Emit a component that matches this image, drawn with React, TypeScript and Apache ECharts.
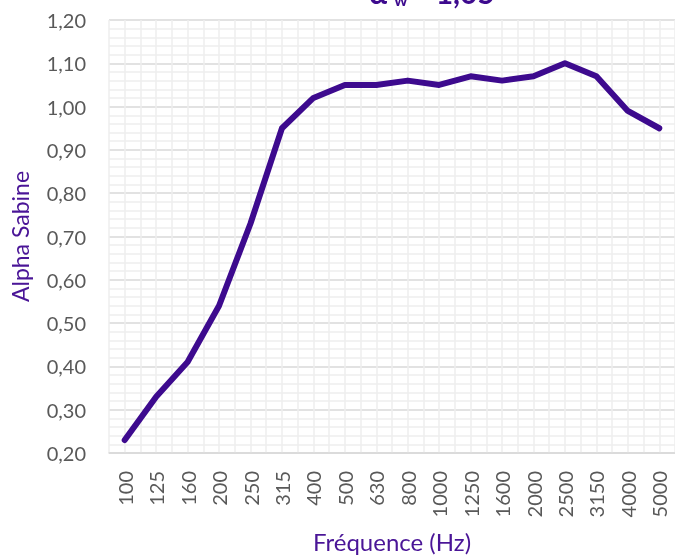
import React, { useEffect, useRef } from "react";
import * as echarts from "echarts";

const frequencies = ["100", "125", "160", "200", "250", "315", "400", "500", "630", "800", "1000", "1250", "1600", "2000", "2500", "3150", "4000", "5000"];
const alphaSabine = [0.23, 0.33, 0.41, 0.54, 0.73, 0.95, 1.02, 1.05, 1.05, 1.06, 1.05, 1.07, 1.06, 1.07, 1.1, 1.07, 0.99, 0.95];
const yMin = 0.2;
const yMax = 1.2;
const yStep = 0.1;
const titleMain = "α";
const titleSub = "w";
const titleRest = "= 1,05";

const PURPLE = "#3d0a8e";
const FONT = "Lato";

export default function App() {
  const ref = useRef<HTMLDivElement>(null);
  useEffect(() => {
    if (!ref.current) return;
    const chart = echarts.init(ref.current, undefined, { renderer: "svg" });
    const option: any = {
      animation: false,
      textStyle: { fontFamily: FONT },
      grid: { left: 109, right: 0, top: 20, bottom: 103, containLabel: false },
      graphic: [
        { type: "text", x: 369, y: -8, style: { text: titleMain, font: `bold 30px ${FONT}`, fill: PURPLE, verticalAlign: "middle" } },
        { type: "text", x: 394, y: -1, style: { text: titleSub, font: `bold 17px ${FONT}`, fill: PURPLE, verticalAlign: "middle" } },
        { type: "text", x: 411, y: -8, style: { text: titleRest, font: `bold 30px ${FONT}`, fill: PURPLE, verticalAlign: "middle" } },
      ],
      xAxis: [
        {
          type: "category",
          data: frequencies,
          boundaryGap: true,
          axisLine: { show: true, lineStyle: { color: "#d9d9d9", width: 1.5 } },
          axisTick: { show: false },
          splitLine: { show: false },
          axisLabel: { rotate: 90, margin: 18, color: "#595959", fontSize: 20, fontFamily: FONT, interval: 0 },
          name: "Fréquence (Hz)",
          nameLocation: "middle",
          nameGap: 76,
          nameTextStyle: { color: "#4a1597", fontSize: 24, fontFamily: FONT },
        },
        {
          type: "value",
          position: "top",
          min: 0,
          max: frequencies.length * 2,
          interval: 1,
          axisLine: { show: false },
          axisTick: { show: false },
          axisLabel: { show: false },
          splitLine: { show: true, lineStyle: { color: "#eeeeee", width: 1.5 } },
        },
      ],
      yAxis: {
        type: "value",
        min: yMin,
        max: yMax,
        interval: yStep,
        axisLine: { show: false },
        axisTick: { show: false },
        minorTick: { show: false, splitNumber: 5 },
        minorSplitLine: { show: true, lineStyle: { color: "#eeeeee", width: 1.5 } },
        splitLine: { show: true, lineStyle: { color: "#d9d9d9", width: 1.5 } },
        axisLabel: {
          margin: 23,
          color: "#595959",
          fontSize: 20,
          fontFamily: FONT,
          formatter: (v: number) => v.toFixed(2).replace(".", ","),
        },
        name: "Alpha Sabine",
        nameLocation: "middle",
        nameGap: 78,
        nameTextStyle: { color: "#4a1597", fontSize: 23, fontFamily: FONT },
      },
      series: [
        {
          type: "line",
          xAxisIndex: 0,
          data: alphaSabine,
          symbol: "none",
          lineStyle: { color: PURPLE, width: 6, cap: "round", join: "round" },
          z: 5,
        },
      ],
    };
    chart.setOption(option);
    return () => chart.dispose();
  }, []);
  return <div ref={ref} style={{ position: "fixed", left: 0, top: 0, width: 675, height: 558 }} />;
}
